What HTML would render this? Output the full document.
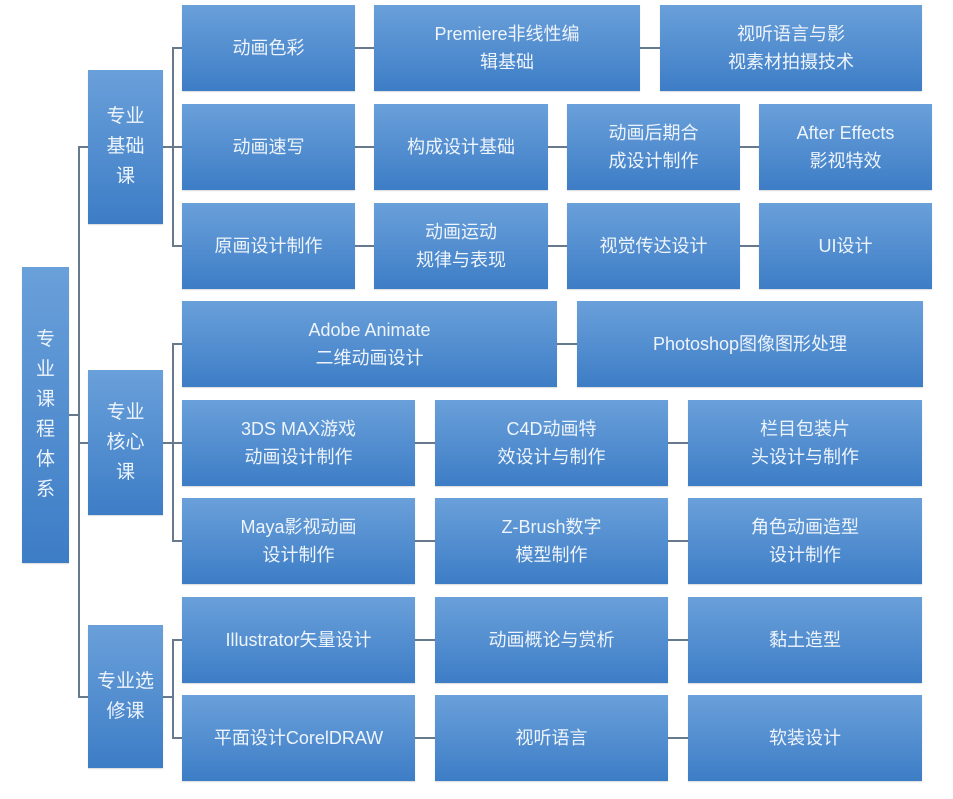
<!DOCTYPE html>
<html><head><meta charset="utf-8"><style>
body{margin:0;width:953px;height:799px;background:#fff;position:relative;overflow:hidden;font-family:"Liberation Sans","Noto Sans CJK SC",sans-serif}
.b{position:absolute;background:linear-gradient(#6aa0da,#3d7dc6);color:#eef4fb;display:flex;align-items:center;justify-content:center;text-align:center;font-size:18px;line-height:28px;box-shadow:0 1px 1px rgba(0,0,0,.15)}
.h,.v{position:absolute;background:#67798c}
.h{height:2px}.v{width:2px}
</style></head><body>
<div class="b" style="left:22px;top:267px;width:47px;height:296px;font-size:19px;line-height:30px">专<br>业<br>课<br>程<br>体<br>系</div>
<div class="b" style="left:88px;top:70px;width:75px;height:154px;font-size:19px;line-height:30px">专业<br>基础<br>课</div>
<div class="b" style="left:88px;top:370px;width:75px;height:145px;font-size:19px;line-height:30px">专业<br>核心<br>课</div>
<div class="b" style="left:88px;top:625px;width:75px;height:143px;font-size:19px;line-height:30px">专业选<br>修课</div>
<div class="h" style="left:69px;top:414px;width:11px"></div>
<div class="v" style="left:78px;top:147px;height:551px"></div>
<div class="h" style="left:78px;top:146px;width:10px"></div>
<div class="h" style="left:78px;top:442px;width:10px"></div>
<div class="h" style="left:78px;top:696px;width:10px"></div>
<div class="h" style="left:163px;top:146px;width:10px"></div>
<div class="v" style="left:172px;top:47px;height:200px"></div>
<div class="h" style="left:172px;top:47px;width:10px"></div>
<div class="h" style="left:172px;top:146px;width:10px"></div>
<div class="h" style="left:172px;top:245px;width:10px"></div>
<div class="h" style="left:163px;top:442px;width:10px"></div>
<div class="v" style="left:172px;top:343px;height:199px"></div>
<div class="h" style="left:172px;top:343px;width:10px"></div>
<div class="h" style="left:172px;top:442px;width:10px"></div>
<div class="h" style="left:172px;top:540px;width:10px"></div>
<div class="h" style="left:163px;top:696px;width:10px"></div>
<div class="v" style="left:172px;top:639px;height:100px"></div>
<div class="h" style="left:172px;top:639px;width:10px"></div>
<div class="h" style="left:172px;top:737px;width:10px"></div>
<div class="h" style="left:355px;top:47px;width:567px"></div>
<div class="h" style="left:355px;top:146px;width:577px"></div>
<div class="h" style="left:355px;top:245px;width:577px"></div>
<div class="h" style="left:557px;top:343px;width:20px"></div>
<div class="h" style="left:415px;top:442px;width:273px"></div>
<div class="h" style="left:415px;top:540px;width:273px"></div>
<div class="h" style="left:415px;top:639px;width:273px"></div>
<div class="h" style="left:415px;top:737px;width:273px"></div>
<div class="b" style="left:182px;top:5px;width:173px;height:86px">动画色彩</div>
<div class="b" style="left:374px;top:5px;width:266px;height:86px">Premiere非线性编<br>辑基础</div>
<div class="b" style="left:660px;top:5px;width:262px;height:86px">视听语言与影<br>视素材拍摄技术</div>
<div class="b" style="left:182px;top:104px;width:173px;height:86px">动画速写</div>
<div class="b" style="left:374px;top:104px;width:174px;height:86px">构成设计基础</div>
<div class="b" style="left:567px;top:104px;width:173px;height:86px">动画后期合<br>成设计制作</div>
<div class="b" style="left:759px;top:104px;width:173px;height:86px">After Effects<br>影视特效</div>
<div class="b" style="left:182px;top:203px;width:173px;height:86px">原画设计制作</div>
<div class="b" style="left:374px;top:203px;width:174px;height:86px">动画运动<br>规律与表现</div>
<div class="b" style="left:567px;top:203px;width:173px;height:86px">视觉传达设计</div>
<div class="b" style="left:759px;top:203px;width:173px;height:86px">UI设计</div>
<div class="b" style="left:182px;top:301px;width:375px;height:86px">Adobe Animate<br>二维动画设计</div>
<div class="b" style="left:577px;top:301px;width:346px;height:86px">Photoshop图像图形处理</div>
<div class="b" style="left:182px;top:400px;width:233px;height:86px">3DS MAX游戏<br>动画设计制作</div>
<div class="b" style="left:435px;top:400px;width:233px;height:86px">C4D动画特<br>效设计与制作</div>
<div class="b" style="left:688px;top:400px;width:234px;height:86px">栏目包装片<br>头设计与制作</div>
<div class="b" style="left:182px;top:498px;width:233px;height:86px">Maya影视动画<br>设计制作</div>
<div class="b" style="left:435px;top:498px;width:233px;height:86px">Z-Brush数字<br>模型制作</div>
<div class="b" style="left:688px;top:498px;width:234px;height:86px">角色动画造型<br>设计制作</div>
<div class="b" style="left:182px;top:597px;width:233px;height:86px">Illustrator矢量设计</div>
<div class="b" style="left:435px;top:597px;width:233px;height:86px">动画概论与赏析</div>
<div class="b" style="left:688px;top:597px;width:234px;height:86px">黏土造型</div>
<div class="b" style="left:182px;top:695px;width:233px;height:86px">平面设计CorelDRAW</div>
<div class="b" style="left:435px;top:695px;width:233px;height:86px">视听语言</div>
<div class="b" style="left:688px;top:695px;width:234px;height:86px">软装设计</div>
</body></html>
